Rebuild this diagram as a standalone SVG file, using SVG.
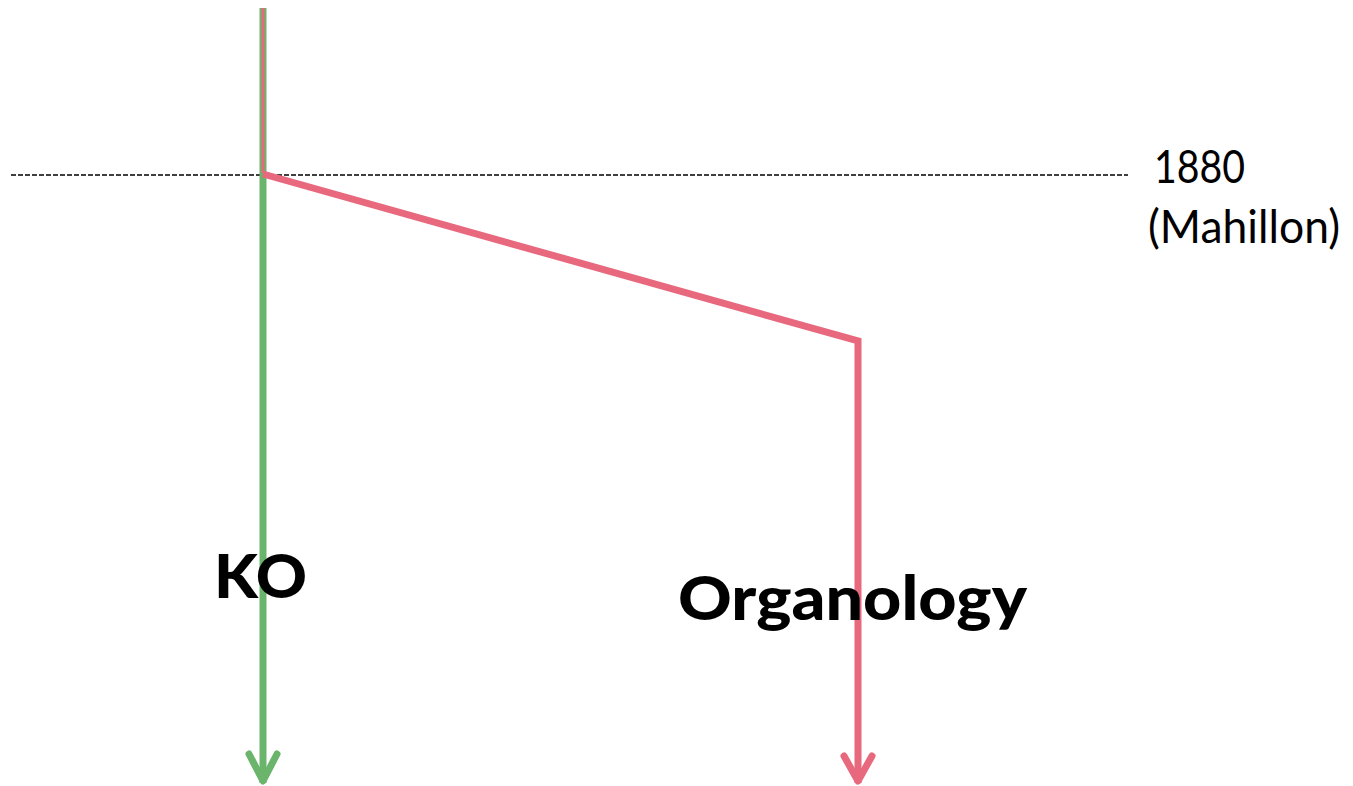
<svg xmlns="http://www.w3.org/2000/svg" width="1353" height="786" viewBox="0 0 1353 786">
<style>
.lbl{font-family:"Lato","Open Sans","DejaVu Sans",sans-serif;fill:#000}
.big{font-weight:900;font-size:60px}
.year{font-size:46px}
.green{stroke:#6ab56b;fill:none;stroke-width:7}
.pink{stroke:#e8697d;fill:none;stroke-width:7}
.pinkthin{stroke:#e8697d;fill:none;stroke-width:3}
.head{stroke-linecap:round;stroke-linejoin:round}
</style>
<rect width="1353" height="786" fill="#fff"/>
<g id="timeline">
<line x1="11" y1="175" x2="1128" y2="175" stroke="#000" stroke-width="1.5" stroke-dasharray="5,2"/>
</g>
<g id="connectors">
<line class="green" x1="263" y1="8" x2="263" y2="783"/>
<polyline class="green head" points="249,754 263,781 277,754"/>
<polyline class="pinkthin" points="263,8 263,173"/>
<polyline class="pink" points="263,174 858,341 858,783"/>
<polyline class="pink head" points="844,756 858,781 872,756"/>
</g>
<g id="year-label">
<text class="lbl year" x="1154" y="183" textLength="91" lengthAdjust="spacingAndGlyphs">1880</text>
<text class="lbl year" x="1148" y="243" textLength="192" lengthAdjust="spacingAndGlyphs">(Mahillon)</text>
</g>
<g id="node-KO">
<text class="lbl big" x="214" y="598" textLength="93" lengthAdjust="spacingAndGlyphs">KO</text>
</g>
<g id="node-Organology">
<text class="lbl big" x="678" y="620" textLength="349" lengthAdjust="spacingAndGlyphs">Organology</text>
</g>
</svg>
